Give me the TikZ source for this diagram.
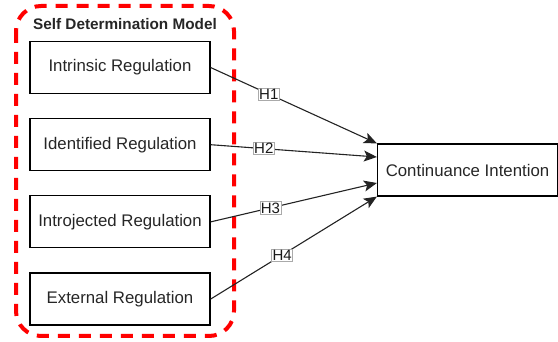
\documentclass[tikz,border=0pt]{standalone}
\usepackage{fontspec}
\setmainfont{Liberation Sans}
\usetikzlibrary{arrows.meta, positioning}
\definecolor{sdmred}{RGB}{255, 0, 0}
\definecolor{edgegray}{RGB}{35, 35, 35}
\definecolor{labelgray}{RGB}{170, 170, 170}

\begin{document}
\begin{tikzpicture}[
  x=1pt, y=-1pt,
  node distance=24pt,
  box/.style={rectangle, draw=black, line width=1.2pt,
              minimum width=180pt, minimum height=52pt, inner sep=0pt,
              text=black!85, font=\fontsize{16.8}{20}\selectfont},
  arrow/.style={-{Stealth[length=13pt, width=11pt, inset=3pt]}, line width=1.1pt, color=edgegray},
  hyp/.style={fill=white, draw=labelgray, line width=0.6pt, inner sep=0.8pt,
              text=black!90, font=\fontsize{15}{17}\selectfont},
  group/.style={draw=sdmred, line width=4pt, dash pattern=on 12pt off 9pt, rounded corners=25pt}
]
  \useasboundingbox (0,0) rectangle (558,342);

  % self determination group
  \draw[group] (16,6) rectangle (234,336);
  \node[font=\bfseries\fontsize{15.3}{18}\selectfont, text=black!85] (sdmtitle) at (125,24) {Self Determination Model};

  \node[box] (intr) at (120,67.5) {Intrinsic Regulation};
  \node[box, below=of intr] (ident) {Identified Regulation};
  \node[box, below=of ident] (introj) {Introjected Regulation};
  \node[box, below=of introj] (extern) {External Regulation};

  \node[box] (contint) at (467.5,170) {Continuance Intention};

  % hypotheses
  \draw[arrow] (intr.east) -- node[hyp, pos=0.35] {H1} (contint.north west);
  \draw[arrow] (ident.east) -- node[hyp, pos=0.32] {H2} ([yshift=13pt]contint.west);
  \draw[arrow] (introj.east) -- node[hyp, pos=0.36] {H3} ([yshift=-13pt]contint.west);
  \draw[arrow] (extern.east) -- node[hyp, pos=0.43] {H4} (contint.south west);
\end{tikzpicture}
\end{document}
